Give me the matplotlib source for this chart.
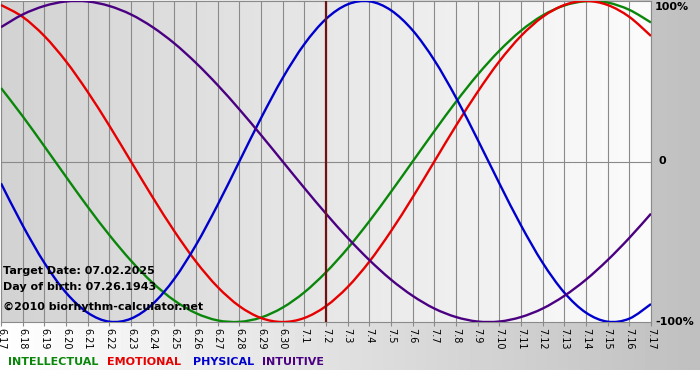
import numpy as np
import matplotlib
matplotlib.use("Agg")
import matplotlib.pyplot as plt
from matplotlib.colors import LinearSegmentedColormap
from matplotlib.path import Path
from matplotlib.patches import PathPatch

# days shown, 6.17 .. 7.17
dias = ["6.17", "6.18", "6.19", "6.20", "6.21", "6.22", "6.23", "6.24", "6.25", "6.26",
        "6.27", "6.28", "6.29", "6.30", "7.1", "7.2", "7.3", "7.4", "7.5", "7.6",
        "7.7", "7.8", "7.9", "7.10", "7.11", "7.12", "7.13", "7.14", "7.15", "7.16", "7.17"]
dia_objetivo = "7.2"

intelectual = [0.458, 0.282, 0.095, -0.095, -0.282, -0.458, -0.618, -0.756, -0.866, -0.945,
               -0.990, -0.999, -0.972, -0.910, -0.815, -0.690, -0.541, -0.372, -0.189, 0.0,
               0.189, 0.372, 0.541, 0.690, 0.815, 0.910, 0.972, 0.999, 0.990, 0.945, 0.866]
emocional = [0.975, 0.901, 0.782, 0.624, 0.434, 0.223, 0.0, -0.223, -0.434, -0.624,
             -0.782, -0.901, -0.975, -1.0, -0.975, -0.901, -0.782, -0.624, -0.434, -0.223,
             0.0, 0.223, 0.434, 0.624, 0.782, 0.901, 0.975, 1.0, 0.975, 0.901, 0.782]
fisico = [-0.136, -0.398, -0.631, -0.817, -0.942, -0.998, -0.979, -0.888, -0.731, -0.520,
          -0.270, 0.0, 0.270, 0.520, 0.731, 0.888, 0.979, 0.998, 0.942, 0.817,
          0.631, 0.398, 0.136, -0.136, -0.398, -0.631, -0.817, -0.942, -0.998, -0.979, -0.888]
intuitivo = [0.837, 0.916, 0.969, 0.997, 0.997, 0.969, 0.916, 0.837, 0.736, 0.614,
             0.476, 0.325, 0.165, 0.0, -0.165, -0.325, -0.476, -0.614, -0.736, -0.837,
             -0.916, -0.969, -0.997, -0.997, -0.969, -0.916, -0.837, -0.736, -0.614, -0.476, -0.325]

series = [("INTELLECTUAL", intelectual, "#0a870a"),
          ("EMOTIONAL", emocional, "#e60000"),
          ("PHYSICAL", fisico, "#0000cc"),
          ("INTUITIVE", intuitivo, "#4b0082")]


def curva_suave(xs, ys):
    # catmull-rom -> bezier, para que la linea no quede quebrada
    pts = np.column_stack([xs, ys]).astype(float)
    ext = np.vstack([pts[0], pts, pts[-1]])
    verts = [pts[0]]
    codes = [Path.MOVETO]
    for i in range(len(pts) - 1):
        p0, p1, p2, p3 = ext[i], ext[i + 1], ext[i + 2], ext[i + 3]
        verts += [p1 + (p2 - p0) / 6, p2 - (p3 - p1) / 6, p2]
        codes += [Path.CURVE4] * 3
    return Path(verts, codes)


W, H = 700, 380
fig = plt.figure(figsize=(7, 3.8), dpi=100)

# fondo general: degradado claro -> gris, franja blanca abajo
fondo = fig.add_axes([0, 0, 1, 1])
fondo.set_axis_off()
g = np.linspace(1.0, 0.75, W)
img = np.tile(g, (H, 1))
img[370:, :] = 1.0
fondo.imshow(img, cmap="gray", vmin=0, vmax=1, aspect="auto", extent=[0, 1, 0, 1],
             interpolation="bilinear")

ax = fig.add_axes([1 / W, 1 - 322 / H, 650 / W, 321 / H])
x = np.arange(len(dias))
ax.set_xlim(0, len(dias) - 1)
ax.set_ylim(-1.0, 1.0)

cmap_area = LinearSegmentedColormap.from_list("area", ["#d3d3d3", "#fcfcfc"])
ax.imshow(np.linspace(0, 1, 256).reshape(1, -1), cmap=cmap_area, aspect="auto",
          extent=[0, len(dias) - 1, -1, 1], zorder=0)

for xi in x:
    ax.axvline(xi, color="#8a8a8a", lw=0.8, zorder=1)
ax.axhline(0, color="#8a8a8a", lw=0.8, zorder=1)

for nombre, valores, color in series:
    ax.add_patch(PathPatch(curva_suave(x, valores), facecolor="none", edgecolor=color,
                           lw=1.7, zorder=3))

ax.axvline(dias.index(dia_objetivo), color="#6e1212", lw=1.6, zorder=4)

for s in ax.spines.values():
    s.set_color("#8a8a8a")
    s.set_linewidth(0.8)
ax.set_yticks([])
ax.set_xticks(x)
ax.set_xticklabels(dias, rotation=270, fontsize=7)
ax.tick_params(axis="x", length=3, color="#8a8a8a", pad=1.5)

ytr = ax.get_yaxis_transform()
ax.text(1.006, 0.995, "100%", transform=ytr, fontsize=8, fontweight="bold", va="top", ha="left")
ax.text(1.012, 0.0, "0", transform=ytr, fontsize=8, fontweight="bold", va="center", ha="left")
ax.text(1.006, -1.0, "-100%", transform=ytr, fontsize=8, fontweight="bold", va="center", ha="left")

fig.text(3 / W, 1 - 271 / H, "Target Date: 07.02.2025", fontsize=8, fontweight="bold", va="center")
fig.text(3 / W, 1 - 287 / H, "Day of birth: 07.26.1943", fontsize=8, fontweight="bold", va="center")
fig.text(3 / W, 1 - 307 / H, "\u00a92010 biorhythm-calculator.net", fontsize=8, fontweight="bold", va="center")

pos_leyenda = [8, 107, 193, 262]
for (nombre, valores, color), px in zip(series, pos_leyenda):
    fig.text(px / W, 1 - 362 / H, nombre, color=color, fontsize=8, fontweight="bold", va="center")

fig.savefig("out.png", dpi=100)
